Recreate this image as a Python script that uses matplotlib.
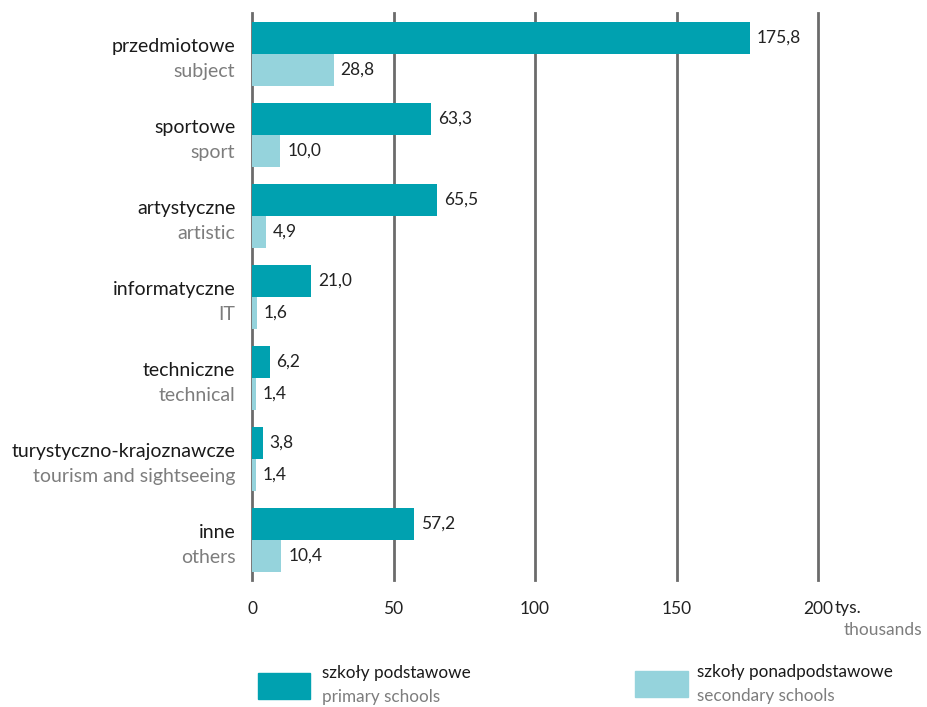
import matplotlib
matplotlib.use("Agg")
import matplotlib.pyplot as plt
from matplotlib.patches import Rectangle

# Dane
kategorie_pl = ["przedmiotowe", "sportowe", "artystyczne", "informatyczne",
                "techniczne", "turystyczno-krajoznawcze", "inne"]
kategorie_en = ["subject", "sport", "artistic", "IT",
                "technical", "tourism and sightseeing", "others"]
podstawowe = [175.8, 63.3, 65.5, 21.0, 6.2, 3.8, 57.2]
ponadpodstawowe = [28.8, 10.0, 4.9, 1.6, 1.4, 1.4, 10.4]
ticks = [0, 50, 100, 150, 200]

TEAL = "#00a1b0"
LIGHT = "#95d3dc"
GRID = "#6b6b6b"
GREY_TXT = "#7d7d7d"
FONT = "Lato"

plt.rcParams["font.family"] = [FONT, "DejaVu Sans"]

fig = plt.figure(figsize=(9.27, 7.07), dpi=100)
W, H = 927, 707
ax = fig.add_axes([252 / W, 1 - 580 / H, (818 - 252) / W, (580 - 13) / H])

h = 0.395
y = list(range(len(kategorie_pl)))
ax.barh([v - h / 2 for v in y], podstawowe, height=h, color=TEAL, zorder=3)
ax.barh([v + h / 2 for v in y], ponadpodstawowe, height=h, color=LIGHT, zorder=3)

ax.set_xlim(0, 200)
ax.set_ylim(6.494, -0.506)

# linie siatki
for x in ticks:
    ax.axvline(x, color=GRID, lw=2, zorder=1, clip_on=False)

for s in ax.spines.values():
    s.set_visible(False)
ax.set_yticks([])
ax.set_xticks(ticks)
ax.set_xticklabels([f"{t}" for t in ticks], fontsize=12.5, color="#222222")
ax.tick_params(axis="x", length=0, pad=15)

# etykiety wartości
def fmt(v):
    return f"{v:.1f}".replace(".", ",")

for i in y:
    ax.annotate(fmt(podstawowe[i]), (podstawowe[i], i - h / 2), xytext=(5, 0),
                textcoords="offset points", va="center", ha="left", fontsize=12.5,
                color="#222222")
    ax.annotate(fmt(ponadpodstawowe[i]), (ponadpodstawowe[i], i + h / 2), xytext=(5, 0),
                textcoords="offset points", va="center", ha="left", fontsize=12.5,
                color="#222222")
    ax.annotate(kategorie_pl[i], (0, i - h / 2 + 0.11), xycoords=("axes fraction", "data"),
                xytext=(-12, 0), textcoords="offset points", ha="right", va="center",
                fontsize=14, color="#1a1a1a")
    ax.annotate(kategorie_en[i], (0, i + h / 2 + 0.02), xycoords=("axes fraction", "data"),
                xytext=(-12, 0), textcoords="offset points", ha="right", va="center",
                fontsize=14, color=GREY_TXT)

# jednostka
ax.annotate("tys.", (200, 0), xycoords=("data", "axes fraction"), xytext=(12, -20),
            textcoords="offset points", ha="left", va="center", fontsize=12.5, color="#222222")
ax.annotate("thousands", (1, 0), xycoords="axes fraction", xytext=(75, -36),
            textcoords="offset points", ha="right", va="center", fontsize=12.5, color=GREY_TXT)

# legenda
fig.patches.append(Rectangle((258 / W, 1 - 699 / H), 52 / W, 26 / H,
                             transform=fig.transFigure, color=TEAL))
fig.text(322 / W, 1 - 673 / H, "szkoły podstawowe", fontsize=12.3, color="#1a1a1a", va="center")
fig.text(322 / W, 1 - 697 / H, "primary schools", fontsize=12.3, color=GREY_TXT, va="center")
fig.patches.append(Rectangle((635 / W, 1 - 697 / H), 53 / W, 26 / H,
                             transform=fig.transFigure, color=LIGHT))
fig.text(697 / W, 1 - 672 / H, "szkoły ponadpodstawowe", fontsize=12.3, color="#1a1a1a", va="center")
fig.text(697 / W, 1 - 696 / H, "secondary schools", fontsize=12.3, color=GREY_TXT, va="center")

fig.savefig("out.png", dpi=100)
